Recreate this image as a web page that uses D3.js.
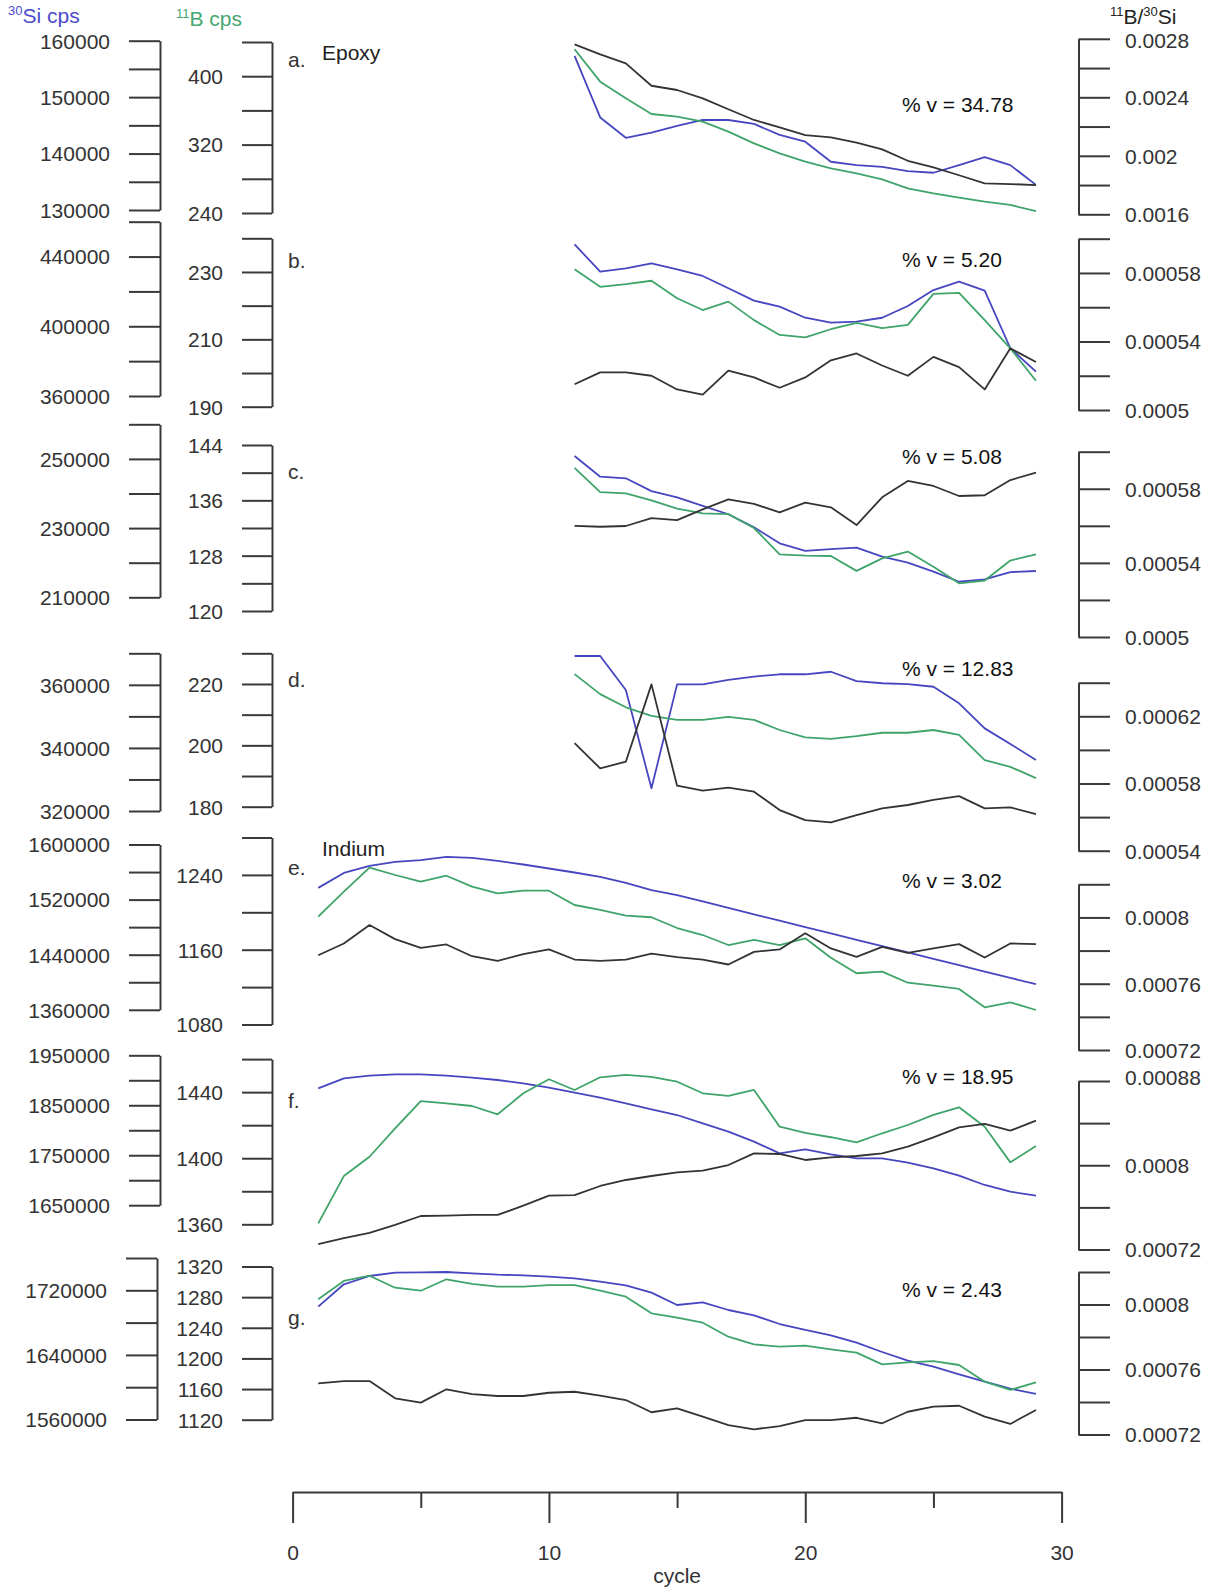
<!DOCTYPE html>
<html>
<head>
<meta charset="utf-8">
<script src="https://cdn.jsdelivr.net/npm/d3@7"></script>
<style>
  body { margin: 0; background: #fff; }
  svg text { font-family: "Liberation Sans", Arial, Helvetica, sans-serif; }
</style>
</head>
<body>
<svg id="chart" width="1215" height="1593"></svg>
<script>
// ---- cycles measured for each sample ----
const cyclesEpoxy = [11, 12, 13, 14, 15, 16, 17, 18, 19, 20, 21, 22, 23, 24, 25, 26, 27, 28, 29];
const cyclesIndium = [1, 2, 3, 4, 5, 6, 7, 8, 9, 10, 11, 12, 13, 14, 15, 16, 17, 18, 19, 20, 21, 22, 23, 24, 25, 26, 27, 28, 29];

const panelLetters = ["a.", "b.", "c.", "d.", "e.", "f.", "g."];
const mountNames = ["Epoxy", "", "", "", "Indium", "", ""];
const cvValues = ["34.78", "5.20", "5.08", "12.83", "3.02", "18.95", "2.43"];

// ---- panel a (epoxy) ----
const siA = [157300, 146400, 142800, 143700, 144900, 145950, 145950, 145250, 143300, 142100, 138550, 137950, 137650, 136900, 136600, 137950, 139350, 137950, 134450];
const bA = [431.5, 393.6, 374.1, 355.8, 352.6, 346.8, 335.1, 321.5, 309.8, 300.0, 292.3, 286.4, 279.4, 268.9, 263.0, 257.9, 253.2, 249.4, 242.3];
const ratioA = [0.002762, 0.002694, 0.002632, 0.002479, 0.00245, 0.002393, 0.002318, 0.002245, 0.002195, 0.002142, 0.002126, 0.00209, 0.002044, 0.001966, 0.001921, 0.001867, 0.001812, 0.001807, 0.0018];

// ---- panel b ----
const siB = [447030, 431300, 433250, 436150, 432700, 428850, 421800, 414700, 411250, 404900, 402050, 402650, 404900, 411650, 420800, 425600, 420400, 387400, 373950];
const bB = [230.8, 225.6, 226.4, 227.4, 222.2, 218.7, 221.2, 215.7, 211.3, 210.6, 213.0, 214.9, 213.3, 214.3, 223.5, 223.8, 215.7, 207.3, 197.7];
const ratioB = [0.000515, 0.000522, 0.000522, 0.00052, 0.000512, 0.000509, 0.000523, 0.000519, 0.000513, 0.000519, 0.000529, 0.000533, 0.000526, 0.00052, 0.000531, 0.000525, 0.000512, 0.000536, 0.000528];

// ---- panel c ----
const siC = [250850, 244850, 244400, 240700, 238900, 236400, 234000, 230250, 225600, 223400, 223950, 224350, 221750, 220000, 217400, 214500, 215200, 217300, 217600];
const bC = [140.7, 137.2, 137.0, 136.0, 134.8, 134.1, 134.0, 132.0, 128.2, 128.0, 127.95, 125.8, 127.6, 128.6, 126.4, 124.0, 124.4, 127.3, 128.2];
const ratioC = [0.00056, 0.0005595, 0.0005599, 0.0005641, 0.0005631, 0.0005689, 0.0005743, 0.0005718, 0.0005673, 0.0005725, 0.00057, 0.0005604, 0.0005754, 0.0005842, 0.0005815, 0.0005761, 0.0005765, 0.0005847, 0.0005887];

// ---- panel d ----
const siD = [369150, 369150, 358350, 327200, 360150, 360150, 361550, 362600, 363350, 363350, 364150, 361200, 360500, 360250, 359400, 354150, 346200, 341250, 336150];
const bD = [223.2, 216.7, 212.4, 209.6, 208.3, 208.3, 209.3, 208.3, 205.0, 202.6, 202.1, 203.0, 204.1, 204.1, 205.0, 203.4, 195.2, 193.0, 189.3];
const ratioD = [0.000604, 0.000589, 0.000593, 0.000639, 0.0005787, 0.0005757, 0.0005775, 0.0005751, 0.0005642, 0.0005582, 0.0005568, 0.0005612, 0.0005652, 0.0005672, 0.0005702, 0.0005725, 0.0005652, 0.0005658, 0.0005618];

// ---- panel e (indium) ----
const siE = [1537000, 1558750, 1568950, 1574750, 1577200, 1582000, 1580550, 1576200, 1570950, 1565150, 1559350, 1552950, 1544250, 1533650, 1526400, 1517250, 1507950, 1498500, 1489350, 1480050, 1470800, 1461650, 1452350, 1443200, 1433900, 1424750, 1415600, 1406300, 1397150];
const bE = [1195.3, 1222.0, 1247.7, 1239.9, 1232.7, 1239.1, 1227.4, 1220.3, 1223.1, 1223.1, 1207.8, 1202.5, 1196.4, 1194.7, 1183.2, 1175.7, 1165.0, 1170.4, 1165.0, 1172.2, 1151.4, 1134.8, 1136.5, 1124.7, 1121.5, 1118.0, 1098.4, 1103.7, 1095.5];
const ratioE = [0.0007772, 0.0007843, 0.0007954, 0.0007869, 0.0007816, 0.0007837, 0.0007766, 0.0007738, 0.0007778, 0.0007807, 0.0007746, 0.0007738, 0.0007746, 0.0007782, 0.000776, 0.0007746, 0.0007716, 0.0007792, 0.0007807, 0.0007904, 0.0007813, 0.0007762, 0.0007822, 0.0007786, 0.0007813, 0.0007839, 0.0007758, 0.0007843, 0.0007839];

// ---- panel f ----
const siF = [1883950, 1903950, 1909150, 1911950, 1911950, 1909150, 1905150, 1900550, 1893950, 1885150, 1875150, 1865150, 1853950, 1841950, 1830500, 1813900, 1797100, 1777100, 1753850, 1761900, 1751850, 1743850, 1743850, 1735050, 1723850, 1709050, 1690450, 1677000, 1669000];
const bF = [1360.6, 1389.2, 1400.9, 1418.1, 1434.6, 1433.2, 1431.6, 1426.6, 1439.3, 1447.8, 1441.3, 1449.0, 1450.4, 1449.3, 1446.3, 1439.3, 1437.7, 1441.3, 1419.1, 1415.4, 1412.7, 1409.6, 1415.1, 1420.1, 1426.2, 1430.8, 1419.1, 1397.5, 1407.4];
const ratioF = [0.0007252, 0.0007309, 0.0007357, 0.0007433, 0.0007518, 0.0007521, 0.0007528, 0.0007528, 0.0007616, 0.0007711, 0.0007717, 0.0007803, 0.000786, 0.0007898, 0.0007933, 0.0007948, 0.0008002, 0.0008113, 0.0008107, 0.000805, 0.0008075, 0.0008088, 0.0008113, 0.0008176, 0.0008265, 0.000836, 0.0008392, 0.0008328, 0.0008423];

// ---- panel g ----
const siG = [1699700, 1727450, 1737700, 1741800, 1742300, 1742650, 1741050, 1739300, 1738600, 1736850, 1734850, 1730650, 1726200, 1717050, 1701800, 1705150, 1695600, 1689050, 1678250, 1670850, 1664250, 1655100, 1643600, 1632800, 1625400, 1615950, 1606800, 1598150, 1591600];
const bG = [1277.2, 1301.1, 1308.0, 1292.3, 1288.4, 1303.3, 1297.2, 1293.6, 1293.6, 1295.8, 1295.8, 1288.4, 1280.6, 1258.9, 1253.2, 1246.6, 1228.4, 1218.4, 1215.3, 1216.6, 1211.9, 1207.5, 1192.3, 1194.9, 1196.6, 1191.4, 1169.6, 1158.8, 1168.8];
const ratioG = [0.0007515, 0.0007529, 0.0007529, 0.0007423, 0.0007396, 0.0007478, 0.0007449, 0.0007437, 0.0007437, 0.0007457, 0.0007463, 0.0007439, 0.0007412, 0.0007337, 0.0007361, 0.000731, 0.0007258, 0.0007232, 0.0007252, 0.0007289, 0.0007289, 0.0007303, 0.0007269, 0.000734, 0.0007371, 0.0007377, 0.000731, 0.0007265, 0.0007351];

// ---- axis extents, tick spacing and labelled ticks ----
const siDomains = [[130000, 160000], [360000, 460000], [210000, 260000], [320000, 370000], [1360000, 1600000], [1650000, 1950000], [1560000, 1760000]];
const siSteps = [5000, 20000, 10000, 10000, 40000, 50000, 40000];
const siLabels = [[130000, 140000, 150000, 160000], [360000, 400000, 440000], [210000, 230000, 250000], [320000, 340000, 360000], [1360000, 1440000, 1520000, 1600000], [1650000, 1750000, 1850000, 1950000], [1560000, 1640000, 1720000]];

const bDomains = [[240, 440], [190, 240], [120, 144], [180, 230], [1080, 1280], [1360, 1460], [1120, 1320]];
const bSteps = [40, 10, 4, 10, 40, 20, 40];
const bLabels = [[240, 320, 400], [190, 210, 230], [120, 128, 136, 144], [180, 200, 220], [1080, 1160, 1240], [1360, 1400, 1440], [1120, 1160, 1200, 1240, 1280, 1320]];

const ratioDomains = [[0.0016, 0.0028], [0.0005, 0.0006], [0.0005, 0.0006], [0.00054, 0.00064], [0.00072, 0.00082], [0.00072, 0.00088], [0.00072, 0.00082]];
const ratioSteps = [0.0002, 0.00002, 0.00002, 0.00002, 0.00002, 0.00004, 0.00002];
const ratioLabels = [[0.0016, 0.002, 0.0024, 0.0028], [0.0005, 0.00054, 0.00058], [0.0005, 0.00054, 0.00058], [0.00054, 0.00058, 0.00062], [0.00072, 0.00076, 0.0008], [0.00072, 0.0008, 0.00088], [0.00072, 0.00076, 0.0008]];

const cycleTicks = [0, 5, 10, 15, 20, 25, 30];
const cycleLabels = [0, 10, 20, 30];

// ---- page layout (pixels) ----
const layout = {
  xRange: [292.6, 1061.6],
  siX: [160, 160, 160, 160, 160, 160, 157],
  bX: 272,
  ratioX: 1078.5,
  siRange: [[210, 40.7], [396, 221.7], [597.3, 424.3], [811, 653.3], [1009.8, 844.5], [1205.2, 1055.3], [1419.5, 1258]],
  bRange: [[213, 42], [406.7, 238.3], [611, 445], [806.7, 653.3], [1024.5, 837.5], [1224.3, 1059.1], [1419.7, 1266.5]],
  ratioRange: [[214.3, 38.8], [410, 238.7], [637, 451.7], [850.7, 682.7], [1050, 884.3], [1249.5, 1081], [1434.5, 1272]],
  ratioLabelShift: [{ top: 1 }, {}, {}, {}, {}, { top: -4 }, {}],
  letterX: 288, letterY: [67, 268.3, 479.3, 687.3, 875.4, 1107.9, 1325.3],
  nameX: 322, nameY: [60, 0, 0, 0, 856, 0, 0],
  cvX: 902, cvY: [111.7, 267.3, 464, 676, 887.7, 1084.3, 1296.7],
  xAxisY: 1492
};

const colors = { si: "#4646c0", b: "#3fa46a", ratio: "#333333", axis: "#3a3a3a", text: "#333333" };
const fontSize = 21;

const svg = d3.select("#chart");
const x = d3.scaleLinear().domain([0, 30]).range(layout.xRange);

const panelCycles = [cyclesEpoxy, cyclesEpoxy, cyclesEpoxy, cyclesEpoxy, cyclesIndium, cyclesIndium, cyclesIndium];
const siSeries = [siA, siB, siC, siD, siE, siF, siG];
const bSeries = [bA, bB, bC, bD, bE, bF, bG];
const ratioSeries = [ratioA, ratioB, ratioC, ratioD, ratioE, ratioF, ratioG];

// Vertical bracket axis: every step gets a tick, only listed values get text.
function drawAxis(scale, side, xPos, domain, step, labels, tickSize, padding, shift) {
  const n = Math.round((domain[1] - domain[0]) / step);
  const ticks = d3.range(n + 1).map(i => domain[0] + i * step);
  const labelFor = v => {
    const hit = labels.find(l => Math.abs(l - v) < step * 1e-3);
    return hit === undefined ? "" : String(hit);
  };
  const axis = (side === "left" ? d3.axisLeft(scale) : d3.axisRight(scale))
    .tickValues(ticks)
    .tickSize(tickSize)
    .tickSizeOuter(0)
    .tickPadding(padding)
    .tickFormat(labelFor);
  const g = svg.append("g").attr("transform", `translate(${xPos},0)`).call(axis);
  g.attr("font-family", null).attr("font-size", null);
  g.select(".domain").attr("stroke", colors.axis).attr("stroke-width", 2);
  g.selectAll(".tick line").attr("stroke", colors.axis).attr("stroke-width", 2);
  g.selectAll(".tick text")
    .attr("fill", colors.text)
    .style("font-size", fontSize + "px")
    .attr("dy", "0.35em");
  if (shift) {
    g.selectAll(".tick text").attr("y", v => {
      if (shift.top && Math.abs(v - domain[1]) < step * 1e-3) return shift.top;
      if (shift.bottom && Math.abs(v - domain[0]) < step * 1e-3) return shift.bottom;
      return 0;
    });
  }
}

function drawSeries(cycles, values, yScale, color) {
  const pts = cycles.map((c, j) => [c, values[j]]);
  svg.append("path")
    .datum(pts)
    .attr("fill", "none")
    .attr("stroke", color)
    .attr("stroke-width", 1.8)
    .attr("stroke-linejoin", "round")
    .attr("d", d3.line().x(d => x(d[0])).y(d => yScale(d[1])));
}

for (let i = 0; i < 7; i++) {
  const ySi = d3.scaleLinear().domain(siDomains[i]).range(layout.siRange[i]);
  const yB = d3.scaleLinear().domain(bDomains[i]).range(layout.bRange[i]);
  const yR = d3.scaleLinear().domain(ratioDomains[i]).range(layout.ratioRange[i]);

  drawAxis(ySi, "left", layout.siX[i], siDomains[i], siSteps[i], siLabels[i], 31, 19, null);
  drawAxis(yB, "left", layout.bX, bDomains[i], bSteps[i], bLabels[i], 30, 19, null);
  drawAxis(yR, "right", layout.ratioX, ratioDomains[i], ratioSteps[i], ratioLabels[i], 31.5, 15, layout.ratioLabelShift[i]);

  drawSeries(panelCycles[i], siSeries[i], ySi, colors.si);
  drawSeries(panelCycles[i], bSeries[i], yB, colors.b);
  drawSeries(panelCycles[i], ratioSeries[i], yR, colors.ratio);

  svg.append("text")
    .attr("x", layout.letterX).attr("y", layout.letterY[i])
    .attr("fill", colors.text).style("font-size", fontSize + "px")
    .text(panelLetters[i]);

  if (mountNames[i]) {
    svg.append("text")
      .attr("x", layout.nameX).attr("y", layout.nameY[i])
      .attr("fill", "#222").style("font-size", fontSize + "px")
      .text(mountNames[i]);
  }

  svg.append("text")
    .attr("x", layout.cvX).attr("y", layout.cvY[i])
    .attr("fill", "#111").style("font-size", fontSize + "px")
    .text("% v = " + cvValues[i]);
}

// Axis titles with isotope mass numbers as superscripts
function isotopeTitle(xPos, yPos, parts, color, mainSize, supSize) {
  const t = svg.append("text").attr("x", xPos).attr("y", yPos).attr("fill", color);
  let raised = false;
  parts.forEach(p => {
    const span = t.append("tspan").text(p.text);
    if (p.sup) {
      span.style("font-size", supSize + "px").attr("dy", raised ? 0 : -8);
      raised = true;
    } else {
      span.style("font-size", mainSize + "px").attr("dy", raised ? 8 : 0);
      raised = false;
    }
  });
}
isotopeTitle(8, 23, [{ text: "30", sup: true }, { text: "Si cps" }], "#4b4bcc", 21, 13);
isotopeTitle(176, 26, [{ text: "11", sup: true }, { text: "B cps" }], "#45a872", 21, 13);
isotopeTitle(1110, 24, [{ text: "11", sup: true }, { text: "B/" }, { text: "30", sup: true }, { text: "Si" }], "#222", 21, 13);

// Cycle axis at the foot of the stack
const xAxis = d3.axisBottom(x)
  .tickValues(cycleTicks)
  .tickSize(31)
  .tickSizeOuter(0)
  .tickPadding(22)
  .tickFormat(v => cycleLabels.includes(v) ? String(v) : "");
const gx = svg.append("g").attr("transform", `translate(0,${layout.xAxisY})`).call(xAxis);
gx.attr("font-family", null).attr("font-size", null);
gx.select(".domain").attr("stroke", colors.axis).attr("stroke-width", 2);
gx.selectAll(".tick line")
  .attr("stroke", colors.axis).attr("stroke-width", 2)
  .attr("y2", v => cycleLabels.includes(v) ? 31 : 16);
gx.selectAll(".tick text").attr("fill", colors.text).style("font-size", fontSize + "px");

svg.append("text")
  .attr("x", d3.mean(layout.xRange)).attr("y", 1583)
  .attr("text-anchor", "middle")
  .attr("fill", colors.text).style("font-size", fontSize + "px")
  .text("cycle");
</script>
</body>
</html>
